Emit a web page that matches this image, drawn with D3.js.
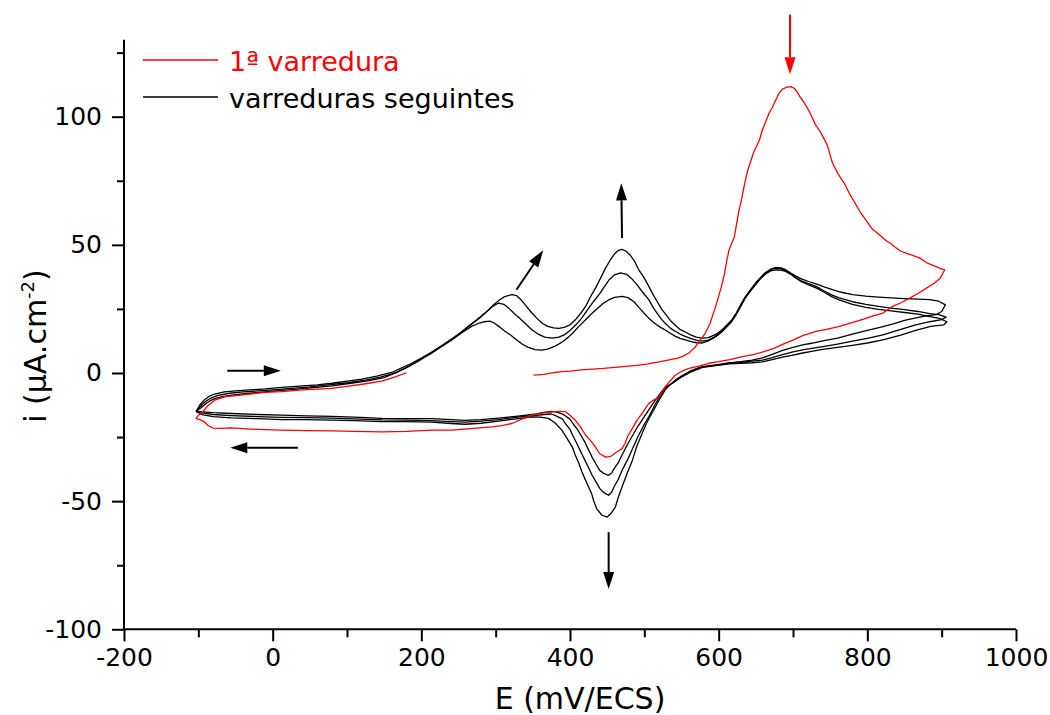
<!DOCTYPE html>
<html>
<head>
<meta charset="utf-8">
<script src="https://cdn.jsdelivr.net/npm/d3@7"></script>
<style>
    body { margin: 0; background: white; }
    svg { font-family: "DejaVu Sans", Verdana, sans-serif; }
</style>
</head>
<body>
<div id="cv-container"></div>
<script>
// Tick values for the axes
var xMajorTicks = [-200, 0, 200, 400, 600, 800, 1000];
var xMinorTicks = [-100, 100, 300, 500, 700, 900];
var yMajorTicks = [-100, -50, 0, 50, 100];
var yMinorTicks = [-75, -25, 25, 75, 125];

// Legend entries
var legendLabels = ["1ª varredura", "varreduras seguintes"];
var legendColors = ["#ff0000", "#000000"];

// First sweep (red), [E mV, i uA/cm2]
var firstScan = [
    [351,-0.8],[365,-0.5],[380,0.2],[389,0.5],[400,0.7],[415,1.2],[430,1.5],[445,1.8],[460,2.2],[475,2.6],
    [490,3.0],[505,3.6],[520,4.3],[535,5.2],[545,5.8],[551,6.4],[560,7.8],[566,9.5],[569,10.3],[573,12.3],
    [578,13.8],[582,15.6],[588,19],[592,22.5],[596,26],[600,30],[604,34],[608,39],[611,44],[614,48],
    [618,51],[621,53],[624,58],[627,63],[631,68],[635,74],[639,79],[643,82.5],[647,86],[651,88.5],
    [655,91],[659,95],[664,98.5],[668,101.5],[672,103.5],[676,106],[681,109],[686,110.8],[692,111.5],
    [697,111.7],[702,111],[706,109.5],[710,107.5],[715,105.5],[722,102],[730,97],[738,93.5],[746,89],
    [753,82],[760,78],[769,74],[775,70.5],[780,68],[785,65.5],
    [790,63],[796,60.5],[801,58.5],[807,56],[814,54.5],[821,52.7],[826,51.5],[830,50.8],[838,49],[845,47.5],
    [852,46.8],[860,46],[870,44.9],[880,43],[890,41.8],[898,40.8],[904,40.2],
    [898,37],[890,35],[879,33],[868,31],[857,29.2],[846,27.5],[834,26],[821,23.4],[808,22.3],[795,21],
    [776,19.4],[760,18],[745,17],[731,16.2],[713,14.6],[700,12.8],[686,11.2],[675,9.7],[662,8.4],[648,7.3],
    [632,6.4],[615,5.2],[600,4.4],[587,3.8],[575,2.8],[560,1.8],[550,0.6],[542,-0.8],[535,-3],[528,-5.4],
    [520,-9.3],[513,-10.5],[506,-11.9],[501,-14],[497,-15.8],[490,-18.5],[484,-21.6],[478,-24.5],[474,-27.5],[470,-29.5],
    [462,-31],[455,-32.5],[448,-32.8],[440,-31.5],[434,-28.8],[428,-26.5],[421,-24.3],[414,-21],[407,-18.4],[400,-16.5],
    [394,-15.1],[387,-15],[380,-15.1],[365,-15.6],[349,-16.4],[335,-18],[322,-19.7],[308,-20.5],[295,-21],[270,-21.6],
    [241,-22.3],[214,-22.3],[180,-22.8],[147,-23],[110,-22.8],[80,-22.6],[45,-22.5],[12,-22.3],[-20,-22],[-40,-21.7],
    [-56,-21.4],[-70,-21.6],[-80,-21.5],[-87,-20.5],[-92,-19],[-98,-18.2],[-103,-17.7],
    [-100,-16.5],[-96,-15.8],[-88,-13],[-78,-10.6],[-65,-9.3],[-50,-8.8],[-30,-8.2],[-10,-7.6],[12,-7.3],[40,-6.6],
    [60,-6.3],[79,-6],[100,-5.2],[125,-4.2],[147,-3.2],[165,-1.5],[180,0.1]
];

// Following sweeps (black): the one with the biggest peaks
var scanC = [
    [-103,-15],[-98,-12.5],[-92,-10.5],[-85,-9],[-78,-8.2],[-65,-7.4],[-50,-7],[-30,-6.6],[-10,-6.2],[12,-5.6],
    [40,-5],[60,-4.6],[80,-4],[100,-3.2],[120,-2.4],[140,-1.2],[160,0.2],[170,1.5],[185,3.5],[200,5.8],
    [214,8.2],[228,10.8],[241,13.3],[255,16.2],[268,19.2],[280,21.8],[290,24.5],[298,26.8],[305,28.5],[312,29.8],
    [322,30.6],[328,30.2],[334,28.6],[340,26.5],[347,24],[355,21.5],[362,19.5],[370,18.2],[378,17.6],[385,17.4],
    [392,17.8],[400,18.8],[408,21],[415,23.5],[422,26.5],[428,30],[435,33.5],[442,37.5],[448,41],[454,44],
    [460,46.5],[465,47.8],[470,48.2],[475,47.6],[481,46],[487,43.5],[493,40],[500,37],[506,33.8],[512,30.5],
    [518,27.5],[523,25],[528,23.2],[535,20.5],[542,18.5],[548,17],[555,16],[563,14.8],[570,14],[578,13.6],
    [586,13.8],[594,14.8],[600,15.8],[605,17],[612,19],[618,20.8],[624,23.5],[630,26.8],[636,29.8],[643,32.5],
    [650,35.2],[657,37.5],[663,39.2],[670,40.5],[677,41.2],[684,41],[690,40.3],[697,39],[704,37.8],[712,36.6],
    [722,35.6],[731,34.8],[742,33.6],[753,32.5],[765,31.5],[780,30.6],[798,30],[815,29.6],[832,29.3],[850,29],
    [868,28.8],[884,28.6],[896,28],[905,26.6],
    [900,24],[893,22.8],[884,22.5],[870,21.8],[850,20.5],[835,19.2],[821,18.1],[800,16.6],[780,15.2],[760,13.6],
    [740,12.5],[725,11.6],[713,11],[700,10],[686,8.8],[672,7.3],[659,5.9],[645,5],[630,4.4],
    [614,3.9],[596,3.2],[578,2.5],[568,1.5],[560,0.5],[551,-1],[542,-2.7],[535,-4.5],[528,-6.6],[519,-11],
    [510,-15.8],[503,-19.5],[497,-23.6],[490,-28.5],[484,-34],[477,-39],[470,-44.5],[465,-48.5],[461,-52.3],[456,-54.5],
    [450,-56.2],[443,-55.5],[436,-53],[432,-50],[429,-47],[425,-44.5],[421,-41.9],[416,-38.5],[412,-35.3],[407,-32],
    [403,-28.8],[396,-25.5],[389,-22.3],[380,-19.5],[371,-17.7],[360,-17.2],[349,-17.1],[330,-17.8],[304,-18.8],[280,-19.6],
    [259,-20],[240,-19.7],[214,-19.2],[180,-19],[147,-19],[110,-18.6],[80,-18.4],[45,-18.2],[12,-18.2],[-20,-17.8],
    [-56,-17.5],[-80,-17],[-95,-16.2],[-103,-15]
];

// Middle sweep
var scanB = [
    [-103,-15],[-97,-13],[-90,-11],[-82,-9.6],[-72,-8.6],[-58,-7.9],[-40,-7.4],[-20,-7],[0,-6.6],[25,-6],
    [50,-5.4],[75,-4.6],[100,-3.8],[125,-2.8],[145,-1.6],[165,0],[180,2.2],[196,4.6],[210,7.2],[225,10],
    [240,13],[253,15.8],[266,18.8],[278,21.6],[288,24],[296,26],[304,27.3],[311,26.8],[318,25.2],[325,23.2],
    [333,21.2],[341,19],[349,16.8],[357,15.2],[366,14],[376,13.6],[385,14],[393,15],[400,16.6],[408,18.8],
    [416,21.5],[424,24.8],[432,28],[440,31],[447,34],[453,36.5],[460,38.3],[468,39.1],[476,38.5],[483,36.8],
    [490,34.5],[497,31.8],[506,28.6],[512,25.5],[518,23],[523,21],[528,19.4],[535,17.5],[542,16.2],[548,15.2],
    [555,14.3],[563,13.4],[570,12.8],[578,12.4],[586,12.8],[594,14],[600,15.3],[605,16.6],[612,18.6],[618,20.6],
    [624,23.4],[630,26.5],[636,29.6],[643,32.3],[650,35],[657,37.3],[663,39],[670,40.3],[677,40.8],[684,40.6],
    [690,40],[697,38.8],[704,37.2],[712,35.8],[722,34.8],[731,33.8],[742,32],[752,30.5],[762,29.3],[780,27.8],
    [798,26.8],[815,26],[832,25.3],[850,24.7],[868,24],[884,23.2],[896,22.8],[906,21.8],
    [900,20.8],[884,20],[865,18.8],[845,17],[821,14.9],[800,13.5],[780,12.4],[760,11.3],[740,10.3],[725,9.6],
    [713,9],[700,8.2],[686,7.2],[672,6],[659,5],[645,4.6],[630,4.2],[614,3.8],[596,3],
    [578,2.3],[568,1.2],[560,0.2],[551,-1.2],[542,-3],[535,-4.5],[528,-6],[520,-9.5],[515,-12],[508,-16],
    [500,-20],[492,-24.5],[485,-29],[478,-33.5],[470,-38],[465,-41.5],[460,-44],[456,-46.5],[452,-47.7],[446,-46.8],
    [440,-45],[435,-42.5],[430,-40],[425,-37],[420,-34],[415,-31],[410,-28],[404,-24.5],[400,-22],[394,-19.8],
    [390,-18],[382,-16.8],[375,-16],[365,-16.2],[355,-16.5],[330,-17.2],[304,-18.2],[280,-18.8],[259,-19.2],[240,-19],
    [214,-18.6],[180,-18.4],[147,-18.3],[110,-17.9],[80,-17.6],[45,-17.4],[12,-17.3],[-20,-17],[-56,-16.6],[-80,-16.2],
    [-95,-15.6],[-103,-15]
];

// Smallest sweep
var scanA = [
    [-103,-15],[-96,-13.5],[-88,-11.5],[-80,-10.2],[-68,-9.2],[-55,-8.6],[-35,-8],[-15,-7.5],[5,-7],[30,-6.4],
    [55,-5.7],[80,-5],[105,-4],[130,-3],[150,-1.8],[169,0.5],[186,3],[200,5.5],[214,7.7],[228,10.5],
    [241,12.9],[255,15.8],[268,18.3],[278,19.5],[285,20],[292,20.2],[298,19.5],[305,18],[312,16.4],[320,14.8],
    [328,13],[336,11.2],[344,10],[353,9.1],[362,8.9],[370,9.3],[380,10.5],[390,12.2],[398,14],[405,16],
    [412,18.2],[420,20.5],[428,22.8],[436,25],[444,27],[452,28.5],[460,29.5],[470,29.9],[478,29.4],[486,27.8],
    [493,25.5],[500,23.2],[506,21.4],[512,19.8],[518,18.5],[523,17.6],[528,16.8],[535,15.5],[542,14.3],[548,13.5],
    [555,12.9],[563,12.2],[570,11.8],[578,11.7],[586,12.5],[594,13.8],[600,15],[605,16.3],[612,18.3],[618,20.3],
    [624,23],[630,26.2],[636,29.3],[643,32],[650,34.6],[657,37],[663,38.6],[670,39.8],[677,40.2],[684,40.1],
    [690,39.6],[697,38.5],[704,37],[712,35.5],[722,34.3],[731,33.2],[742,31.5],[752,29.8],[762,28.5],[780,26.8],
    [798,25.6],[815,24.8],[832,24.2],[850,23.6],[868,23],[884,22],[897,21.3],[907,20],
    [903,18.8],[890,18.4],[884,18.1],[865,16.6],[845,14.8],[821,12.9],[800,11.7],[780,10.8],[760,10],[740,9.2],
    [725,8.4],[713,7.8],[700,7],[686,6.2],[672,5.2],[659,4.3],[645,4],[630,3.8],[614,3.6],
    [596,2.9],[578,2.2],[568,1],[560,0],[551,-1.4],[542,-3.2],[535,-4.4],[528,-5.5],[520,-8.5],[515,-10.5],
    [508,-13.5],[500,-17],[492,-20.5],[485,-24],[478,-27.5],[470,-32],[465,-35],[460,-37],[456,-39],[452,-39.9],
    [446,-39.3],[440,-38],[435,-35.5],[430,-33],[425,-30],[420,-27],[415,-24.5],[410,-22],[404,-19.8],[400,-18],
    [394,-16.8],[390,-16],[382,-15.3],[375,-15],[365,-15.4],[355,-16],[330,-16.8],[304,-17.6],[280,-18.2],[259,-18.5],
    [240,-18.2],[214,-17.8],[180,-17.8],[147,-17.7],[110,-17.2],[80,-16.9],[45,-16.7],[12,-16.4],[-20,-16.2],[-56,-15.8],
    [-80,-15.5],[-95,-15.2],[-103,-15]
];

// Direction arrows, in data units: [E from, i from, E to, i to]
var arrowsBlack = [
    [-61, 0.9, 11, 0.9],
    [34, -29.2, -57, -29.2],
    [328, 32.5, 364, 47.9],
    [470, 52.7, 469, 74],
    [452, -62.1, 452, -84.3]
];
var arrowsRed = [
    [696, 139.8, 696, 116.6]
];

// Dimensions of the graph
var width = 1050;
var height = 715;

// Scales
var x = d3.scaleLinear().domain([-200, 1000]).range([124, 1016]);
var y = d3.scaleLinear().domain([-100, 130]).range([629.3, 39.8]);

var svg = d3.select("#cv-container")
    .append("svg")
    .attr("width", width)
    .attr("height", height);

// Line generator
var line = d3.line()
    .x(d => x(d[0]))
    .y(d => y(d[1]));

// The black sweeps first, then the red one on top
[scanA, scanB, scanC].forEach(function (scan) {
    svg.append("path")
        .datum(scan)
        .attr("fill", "none")
        .attr("stroke", "black")
        .attr("stroke-width", 1.3)
        .attr("stroke-linejoin", "round")
        .attr("d", line);
});

svg.append("path")
    .datum(firstScan)
    .attr("fill", "none")
    .attr("stroke", "#ff0000")
    .attr("stroke-width", 1.3)
    .attr("stroke-linejoin", "round")
    .attr("d", line);

// X axis, major and minor ticks
var xAxis = svg.append("g")
    .attr("transform", `translate(0, ${y(-100)})`)
    .call(d3.axisBottom(x).tickValues(xMajorTicks).tickSize(12).tickPadding(7).tickFormat(d => String(d)));

svg.append("g")
    .attr("transform", `translate(0, ${y(-100)})`)
    .call(d3.axisBottom(x).tickValues(xMinorTicks).tickSize(8).tickFormat(""))
    .select(".domain").remove();

// Y axis, major and minor ticks
var yAxis = svg.append("g")
    .attr("transform", `translate(${x(-200)}, 0)`)
    .call(d3.axisLeft(y).tickValues(yMajorTicks).tickSize(12).tickPadding(10).tickFormat(d => String(d)));

svg.append("g")
    .attr("transform", `translate(${x(-200)}, 0)`)
    .call(d3.axisLeft(y).tickValues(yMinorTicks).tickSize(7).tickFormat(""))
    .select(".domain").remove();

// Axis styling
svg.selectAll(".domain").attr("stroke", "black").attr("stroke-width", 2);
svg.selectAll(".tick line").attr("stroke", "black").attr("stroke-width", 2);
svg.selectAll(".tick text")
    .attr("fill", "black")
    .style("font-size", "25px")
    .style("font-family", "'DejaVu Sans', Verdana, sans-serif");

// Straight axis ends without the outer tick caps
xAxis.select(".domain").attr("d", `M${x(-200)},0H${x(1000)}`);
yAxis.select(".domain").attr("d", `M0,${y(-100)}V${y(130)}`);

// Axis labels
svg.append("text")
    .attr("x", 580)
    .attr("y", 709)
    .attr("text-anchor", "middle")
    .style("font-size", "30px")
    .text("E (mV/ECS)");

var yLabel = svg.append("text")
    .attr("transform", "translate(46, 346) rotate(-90)")
    .attr("text-anchor", "middle")
    .style("font-size", "30px");
yLabel.append("tspan").text("i (µA.cm");
yLabel.append("tspan").attr("dy", -12).style("font-size", "18px").text("-2");
yLabel.append("tspan").attr("dy", 12).text(")");

// Legend
legendLabels.forEach(function (label, k) {
    var ly = 60 + k * 37;
    svg.append("line")
        .attr("x1", 143).attr("x2", 218)
        .attr("y1", ly).attr("y2", ly)
        .attr("stroke", legendColors[k])
        .attr("stroke-width", 1.3);
    svg.append("text")
        .attr("x", 229)
        .attr("y", ly + 11)
        .attr("fill", legendColors[k])
        .style("font-size", "27px")
        .text(label);
});

// Arrows with triangle heads
function drawArrow(a, color) {
    var x1 = x(a[0]), y1 = y(a[1]), x2 = x(a[2]), y2 = y(a[3]);
    var ang = Math.atan2(y2 - y1, x2 - x1);
    var headLen = 17, headHalf = 5.5;
    var bx = x2 - headLen * Math.cos(ang), by = y2 - headLen * Math.sin(ang);
    svg.append("line")
        .attr("x1", x1).attr("y1", y1)
        .attr("x2", bx).attr("y2", by)
        .attr("stroke", color)
        .attr("stroke-width", 2);
    var pts = [
        [x2, y2],
        [bx + headHalf * Math.sin(ang), by - headHalf * Math.cos(ang)],
        [bx - headHalf * Math.sin(ang), by + headHalf * Math.cos(ang)]
    ];
    svg.append("polygon")
        .attr("points", pts.map(p => p.join(",")).join(" "))
        .attr("fill", color);
}
arrowsBlack.forEach(a => drawArrow(a, "black"));
arrowsRed.forEach(a => drawArrow(a, "#ff0000"));
</script>
</body>
</html>
